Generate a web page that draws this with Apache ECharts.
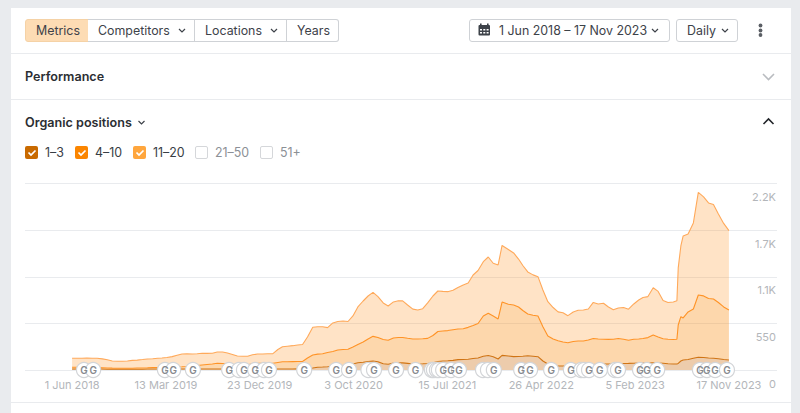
<!DOCTYPE html>
<html><head><meta charset="utf-8">
<script src="https://cdn.jsdelivr.net/npm/echarts@6/dist/echarts.min.js"></script>
<style>
html,body{margin:0;padding:0;width:800px;height:413px;overflow:hidden;background:#e9ebee;font-family:Inter,"Noto Sans",sans-serif;color:#383d44}
#card{position:absolute;left:11px;top:8px;width:780px;height:405px;background:#fff}
#chart{position:absolute;left:0;top:0;width:800px;height:413px}
.abs{position:absolute;white-space:nowrap}
.sep{position:absolute;left:11px;width:780px;height:1px;background:#e9ebee}
.btn{position:absolute;top:19px;height:21px;border:1px solid #cfd2d6;background:#fff;font-size:12.4px;line-height:21px;box-sizing:content-box;white-space:nowrap;color:#3d4249}
.btn span{position:absolute;top:0}
.h{position:absolute;left:25px;font-size:12.6px;font-weight:600;color:#2b2e33;white-space:nowrap}
.cb{position:absolute;top:146px;width:13px;height:13px;border-radius:2px;box-sizing:border-box}
.lg{position:absolute;top:144px;font-size:12.4px;line-height:17px;white-space:nowrap}
svg.ic{position:absolute;overflow:visible}
</style></head><body>
<div id="card"></div>
<div class="sep" style="top:53px"></div>
<div class="sep" style="top:99px"></div>
<div class="sep" style="top:402px"></div>

<div class="btn" style="left:25px;width:63px;background:#fddcb4;border-color:#f5d2a6;border-radius:3px 0 0 3px"><span style="left:10px">Metrics</span></div>
<div class="btn" style="left:88px;width:106px;border-left:none"><span style="left:10px">Competitors</span></div>
<div class="btn" style="left:195px;width:91px;border-left:none"><span style="left:10px">Locations</span></div>
<div class="btn" style="left:287px;width:51px;border-left:none;border-radius:0 3px 3px 0"><span style="left:10px">Years</span></div>
<div class="btn" style="left:469px;width:199px;border-radius:3px"><span style="left:29px">1 Jun 2018 – 17 Nov 2023</span></div>
<div class="btn" style="left:676px;width:60px;border-radius:3px"><span style="left:10px">Daily</span></div>

<svg class="ic" style="left:0;top:0" width="800" height="413" fill="none">
 <g stroke="#3d4249" stroke-width="1.2">
  <path d="M179 29l3 3 3-3M271 29l3 3 3-3M652 29l3 3 3-3M722 29l3 3 3-3"/>
 </g>
 <g fill="#3d4249"><rect x="478.5" y="25" width="11.5" height="10.5" rx="1"/><rect x="480" y="23.5" width="1.6" height="2.5"/><rect x="487" y="23.5" width="1.6" height="2.5"/></g>
 <g fill="#fff"><rect x="480" y="29" width="2" height="1.5"/><rect x="483.3" y="29" width="2" height="1.5"/><rect x="486.6" y="29" width="2" height="1.5"/><rect x="480" y="32" width="2" height="1.5"/><rect x="483.3" y="32" width="2" height="1.5"/><rect x="486.6" y="32" width="2" height="1.5"/></g>
 <g fill="#5a5e64"><circle cx="760.5" cy="25.5" r="1.9"/><circle cx="760.5" cy="30.5" r="1.9"/><circle cx="760.5" cy="35" r="1.9"/></g>
 <path d="M763 74l5.500 5.500 5.500-5.500" stroke="#b9bcc0" stroke-width="1.6"/>
 <path d="M763.500 124l5-5 5 5" stroke="#22252a" stroke-width="1.6"/>
 <path d="M138.500 121l3 3 3-3" stroke="#3d4249" stroke-width="1.2"/>
</svg>

<div class="h" style="top:69px">Performance</div>
<div class="h" style="top:115px">Organic positions</div>

<div class="cb" style="left:25px;background:#c96a00"></div><div class="lg" style="left:45px">1–3</div>
<div class="cb" style="left:75px;background:#fb8500"></div><div class="lg" style="left:95px">4–10</div>
<div class="cb" style="left:133px;background:#ffa63d"></div><div class="lg" style="left:153px">11–20</div>
<div class="cb" style="left:195px;border:1px solid #d5d7da"></div><div class="lg" style="left:215px;color:#8c9096">21–50</div>
<div class="cb" style="left:260px;border:1px solid #d5d7da"></div><div class="lg" style="left:280px;color:#8c9096">51+</div>
<svg class="ic" style="left:0;top:0" width="800" height="413" fill="none"><path d="M28.500 152.500l2.500 2.500 4.500-4.500M78.500 152.500l2.500 2.500 4.500-4.500M136.500 152.500l2.500 2.500 4.500-4.500" stroke="#fff" stroke-width="1.7"/></svg>

<div id="chart"></div>
<script>
const dates = ["2018-06-01","2018-06-16","2018-07-01","2018-07-16","2018-08-01","2018-08-16","2018-09-01","2018-09-16","2018-10-01","2018-10-16","2018-11-01","2018-11-16","2018-12-01","2018-12-16",
"2019-01-01","2019-01-16","2019-02-01","2019-02-16","2019-03-01","2019-03-16","2019-04-01","2019-04-16","2019-05-01","2019-05-16","2019-06-01","2019-06-16","2019-07-01","2019-07-16","2019-08-01","2019-08-16","2019-09-01","2019-09-16","2019-10-01","2019-10-16","2019-11-01","2019-11-16","2019-12-01","2019-12-16",
"2020-01-01","2020-01-16","2020-02-01","2020-02-16","2020-03-01","2020-03-16","2020-04-01","2020-04-16","2020-05-01","2020-05-16","2020-06-01","2020-06-16","2020-07-01","2020-07-16","2020-08-01","2020-08-16","2020-09-01","2020-09-16","2020-10-01","2020-10-16","2020-11-01","2020-11-16","2020-12-01","2020-12-16",
"2021-01-01","2021-01-16","2021-02-01","2021-02-16","2021-03-01","2021-03-16","2021-04-01","2021-04-16","2021-05-01","2021-05-16","2021-06-01","2021-06-16","2021-07-01","2021-07-16","2021-08-01","2021-08-16","2021-09-01","2021-09-16","2021-10-01","2021-10-16","2021-11-01","2021-11-16","2021-12-01","2021-12-16",
"2021-12-28","2022-01-16","2022-02-01","2022-02-16","2022-03-01","2022-03-16","2022-04-01","2022-04-16","2022-05-01","2022-05-16","2022-06-01","2022-06-16","2022-07-01","2022-07-16","2022-08-01","2022-08-16","2022-09-01","2022-09-16","2022-10-01","2022-10-16","2022-11-01","2022-11-16","2022-12-01","2022-12-16",
"2023-01-01","2023-01-16","2023-02-01","2023-02-16","2023-03-01","2023-03-16","2023-04-01","2023-04-16","2023-05-01","2023-05-16","2023-06-01","2023-06-12","2023-06-16","2023-06-24","2023-07-01","2023-07-16","2023-08-01","2023-08-16","2023-09-01","2023-09-16","2023-10-01","2023-10-16","2023-11-01","2023-11-17"];
const pos1to3 = [12,12,12,11,11,11,11,9,9,9,9,9,9,9,9,11,11,11,11,11,11,11,11,11,12,12,12,12,12,12,12,12,12,12,12,12,12,12,12,12,12,12,12,12,12,13,14,18,24,32,35,39,44,47,52,55,71,85,92,100,106,98,73,67,83,85,84,78,71,71,73,77,86,100,106,109,114,122,124,127,136,142,163,171,157,130,173,165,158,159,162,168,163,157,106,71,55,47,47,47,51,54,55,59,63,67,71,71,73,76,77,78,80,83,83,83,86,83,79,74,71,71,77,106,118,123,139,151,148,142,138,132,124,118];
const pos4to10 = [20,20,19,19,18,17,15,15,13,12,11,11,12,14,15,15,18,19,20,21,22,25,27,30,35,41,47,53,59,67,65,59,51,47,46,50,61,66,66,67,68,77,85,86,87,87,86,124,153,155,157,168,175,189,190,190,201,216,238,266,291,286,287,283,295,299,300,296,295,295,296,296,321,354,354,356,361,362,363,376,389,407,474,498,480,472,629,610,609,584,540,493,483,480,405,330,310,297,283,275,286,288,287,295,309,299,291,290,290,295,286,273,282,283,289,299,327,307,290,289,289,291,454,523,496,562,581,734,726,702,700,664,620,590];
const pos11to20 = [106,106,107,110,110,111,105,96,84,83,83,86,92,94,99,103,104,109,111,116,125,139,151,149,142,139,138,131,126,133,136,130,120,106,105,101,106,111,111,112,113,153,177,183,188,195,201,248,327,323,319,293,336,336,336,327,366,443,484,507,519,481,431,405,425,433,431,393,352,342,354,418,466,478,467,459,465,490,516,523,596,625,641,664,622,637,667,647,614,566,531,496,476,464,433,405,372,342,346,319,348,362,366,366,425,413,426,382,348,361,375,366,417,460,484,484,557,537,451,433,443,455,673,834,968,920,1015,1210,1168,1127,1115,1044,985,936];
const tickDates = ["2018-06-01","2019-03-13","2019-12-23","2020-10-03","2021-07-15","2022-04-26","2023-02-05","2023-11-17"];
const tickLabels = ["1 Jun 2018","13 Mar 2019","23 Dec 2019","3 Oct 2020","15 Jul 2021","26 Apr 2022","5 Feb 2023","17 Nov 2023"];
const yTickLabels = {0:"0",550:"550",1100:"1.1K",1650:"1.7K",2200:"2.2K"};
const updateDates = ["2018-07-07","2018-08-04","2019-03-10","2019-04-04","2019-06-03","2019-09-21","2019-10-21","2019-11-05","2019-12-09","2020-01-05","2020-01-20","2020-05-06","2020-08-11","2020-09-19","2020-11-17","2020-12-04","2021-02-09","2021-04-09","2021-05-29","2021-06-04","2021-06-13","2021-06-19","2021-07-02","2021-07-26","2021-08-19","2021-10-31","2021-11-15","2021-12-03","2022-02-24","2022-03-23","2022-05-26","2022-07-25","2022-08-25","2022-09-03","2022-09-18","2022-10-21","2022-12-06","2022-12-15","2023-02-20","2023-03-13","2023-04-13","2023-08-21","2023-09-11","2023-10-06","2023-11-11"];

const DAY = 86400000;
const ms = s => Date.parse(s + 'T00:00:00Z');
const tickMs = tickDates.map(ms);
const xMin = ms('2018-01-09'), xMax = ms('2024-04-11');
const pair = arr => arr.map((v,i)=>[ms(dates[i]),v]);
const band = (name,arr,line,fill) => ({name,type:'line',stack:'pos',data:pair(arr),showSymbol:false,symbol:'none',
  lineStyle:{color:line,width:1.1},itemStyle:{color:line},areaStyle:{color:fill,opacity:1},emphasis:{disabled:true},z:2});
// a badge whose G is buried under the next badge shows only its rim
const updateItems = updateDates.map((d,i)=>{
  const next = updateDates[i+1];
  const buried = next && (ms(next)-ms(d)) < 20*DAY;
  return {value:[ms(d),0],label:{show:!buried}};
});

const chart = echarts.init(document.getElementById('chart'),null,{renderer:'svg'});
chart.setOption({
  backgroundColor:'transparent',animation:false,
  tooltip:{show:false},legend:{show:false},
  grid:{left:25,right:23,top:183.5,bottom:43},
  xAxis:[
    {type:'time',min:xMin,max:xMax,splitLine:{show:false},axisLine:{show:false},axisTick:{show:false},axisLabel:{show:false}},
    {type:'value',position:'bottom',scale:true,min:xMin,max:xMax,splitLine:{show:false},
     axisLine:{show:false},axisTick:{show:false},
     axisLabel:{customValues:tickMs,hideOverlap:false,showMinLabel:true,showMaxLabel:true,
      color:'#b3b6ba',fontFamily:'Inter',fontSize:11,margin:9,
      formatter:v=>{const i=tickMs.indexOf(+v);return i<0?'':tickLabels[i];}}}
  ],
  yAxis:{type:'value',position:'right',min:0,max:2200,interval:550,
    axisLine:{show:false},axisTick:{show:false},
    splitLine:{show:true,lineStyle:{color:'#e9ebee',width:1}},
    axisLabel:{inside:true,margin:1,color:'#b3b6ba',fontFamily:'Inter',fontSize:11,verticalAlign:'top',padding:[8,0,0,0],
      formatter:v=>yTickLabels[v]}},
  series:[
    band('1–3',pos1to3,'#d07414','rgba(207,120,37,0.38)'),
    band('4–10',pos4to10,'#ff9326','rgba(250,150,37,0.38)'),
    band('11–20',pos11to20,'#ffa95a','rgba(255,152,45,0.27)'),
    {name:'Updates',type:'scatter',data:updateItems,symbol:'circle',symbolSize:15,clip:false,z:5,silent:true,
     itemStyle:{color:'#fff',borderColor:'#d3d5d8',borderWidth:1.2,opacity:1},
     label:{position:'inside',formatter:'G',color:'#85888d',fontFamily:'Inter',fontSize:10,fontWeight:600}}
  ]
});
</script>
</body></html>
